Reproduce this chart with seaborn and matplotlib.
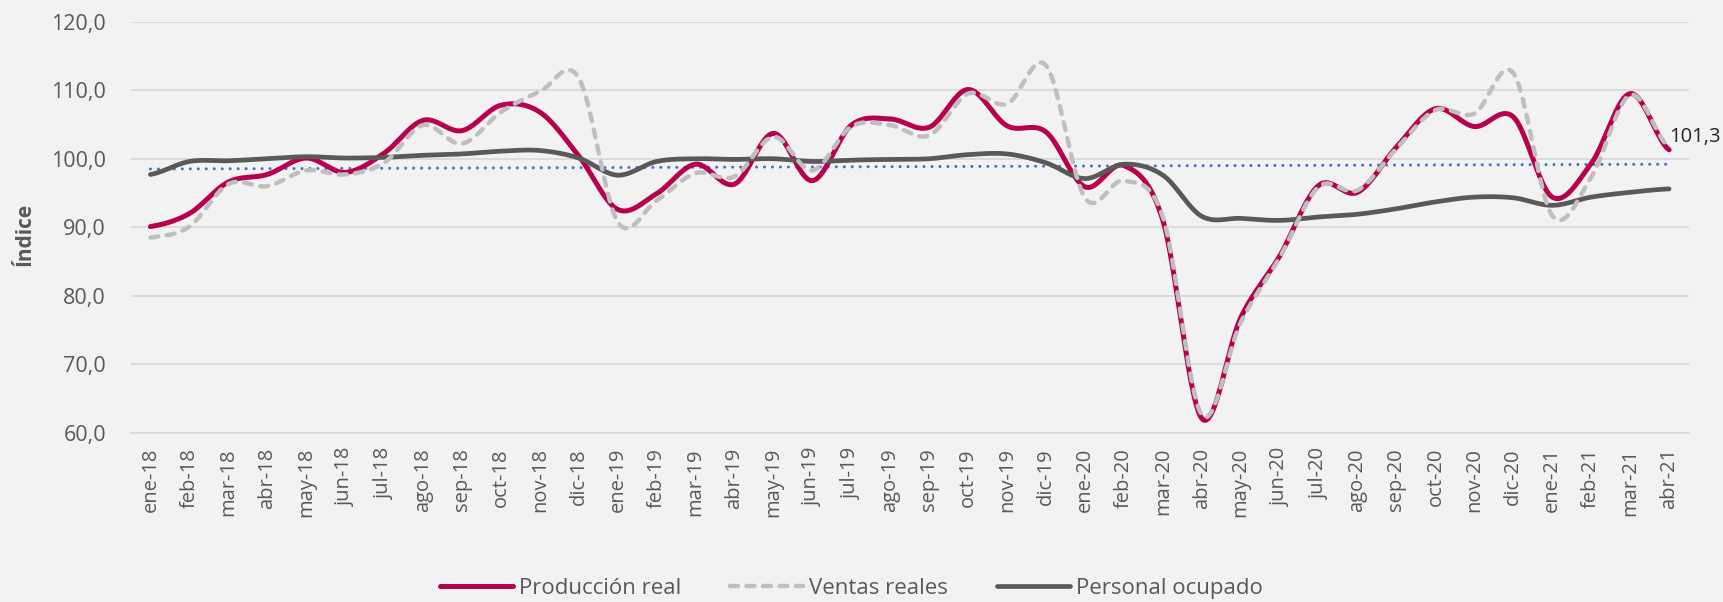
import numpy as np
import pandas as pd
import matplotlib
matplotlib.use('Agg')
import matplotlib.pyplot as plt
from matplotlib.ticker import FuncFormatter, FixedLocator
import seaborn as sns

# Índices mensuales ene-18 .. abr-21
meses = ['ene', 'feb', 'mar', 'abr', 'may', 'jun', 'jul', 'ago', 'sep', 'oct', 'nov', 'dic']
etiquetas = [f'{m}-{a}' for a in ['18', '19', '20', '21'] for m in meses][:40]

produccion = [90.1, 92.0, 96.6, 97.7, 100.1, 98.0, 100.8, 105.6, 104.1, 107.8, 106.8, 100.4,
              92.6, 94.9, 99.2, 96.3, 103.7, 96.8, 104.9, 105.8, 104.6, 110.1, 104.8, 103.9,
              95.9, 99.0, 91.0, 62.1, 76.8, 85.8, 96.1, 95.1, 101.7, 107.3, 104.7, 106.1,
              94.4, 99.3, 109.5, 101.3]
ventas = [88.5, 90.1, 96.3, 96.0, 98.3, 97.7, 99.4, 104.9, 102.2, 106.8, 109.8, 111.8,
          90.8, 93.9, 97.9, 97.4, 103.2, 98.3, 104.7, 104.9, 103.4, 109.5, 108.0, 113.6,
          94.3, 96.8, 91.5, 62.6, 76.1, 85.6, 95.9, 95.4, 101.5, 107.1, 106.6, 112.5,
          91.7, 97.3, 109.3, 101.7]
personal = [97.7, 99.6, 99.7, 100.0, 100.3, 100.1, 100.2, 100.5, 100.7, 101.1, 101.2, 100.1,
            97.6, 99.6, 100.0, 99.9, 100.0, 99.6, 99.8, 99.9, 100.0, 100.6, 100.7, 99.4,
            97.1, 99.2, 97.6, 91.6, 91.3, 91.0, 91.5, 91.9, 92.7, 93.7, 94.4, 94.3,
            93.2, 94.4, 95.1, 95.6]
# línea de tendencia (valores inicial y final)
tendencia = [98.5, 99.2]

ROJO = '#B8004F'
GRIS_CLARO = '#BFBFBF'
GRIS_OSC = '#595959'
AZUL = '#4472C4'
FONDO = '#F2F2F2'
GRID = '#D9D9D9'


def suavizar(y, n=24):
    # curva suavizada tipo Excel (Bezier / Catmull-Rom)
    y = np.asarray(y, float)
    p = np.concatenate([[y[0]], y, [y[-1]]])
    xs, ys = [], []
    t = np.linspace(0, 1, n, endpoint=False)
    for i in range(len(y) - 1):
        p0, p1, p2, p3 = p[i], p[i + 1], p[i + 2], p[i + 3]
        c1 = p1 + (p2 - p0) / 6
        c2 = p2 - (p3 - p1) / 6
        b = (1 - t) ** 3 * p1 + 3 * (1 - t) ** 2 * t * c1 + 3 * (1 - t) * t ** 2 * c2 + t ** 3 * p2
        xs.append(i + t)
        ys.append(b)
    xs.append([len(y) - 1])
    ys.append([y[-1]])
    return np.concatenate(xs), np.concatenate(ys)


sns.set_style('white')
plt.rcParams['font.family'] = ['Open Sans', 'DejaVu Sans']

fig, ax = plt.subplots(figsize=(17.23, 6.02), dpi=100)
fig.patch.set_facecolor(FONDO)
ax.set_facecolor(FONDO)
fig.subplots_adjust(left=0.076, right=0.98, bottom=0.281, top=0.964)

x = np.arange(len(produccion))

ax.plot([x[0], x[-1]], tendencia, color=AZUL, lw=2.2,
        linestyle=(0, (0.01, 2.6)), dash_capstyle='round', zorder=2)

xs, ys = suavizar(produccion)
sns.lineplot(x=xs, y=ys, ax=ax, color=ROJO, lw=3.6, label='Producción real',
             solid_capstyle='round', zorder=3)
xs, ys = suavizar(ventas)
sns.lineplot(x=xs, y=ys, ax=ax, color=GRIS_CLARO, lw=3.2, label='Ventas reales',
             linestyle=(0, (1.8, 1.9)), dash_capstyle='round', zorder=4)
xs, ys = suavizar(personal)
sns.lineplot(x=xs, y=ys, ax=ax, color=GRIS_OSC, lw=3.4, label='Personal ocupado',
             solid_capstyle='round', zorder=3)

ax.annotate(f'{produccion[-1]:.1f}'.replace('.', ','), (x[-1], produccion[-1]),
            xytext=(0, 9), textcoords='offset points', ha='left', va='center',
            fontsize=14.5, color='#262626')

ax.set_xlim(-0.5, len(x) - 0.5)
ax.set_ylim(60, 120)
ax.set_yticks(np.arange(60, 121, 10))
ax.yaxis.set_major_formatter(FuncFormatter(lambda v, p: f'{v:.1f}'.replace('.', ',')))
ax.set_xticks(x)
ax.set_xticklabels(etiquetas, rotation=90)
ax.xaxis.set_minor_locator(FixedLocator(np.arange(-0.5, len(x), 1)))
ax.tick_params(axis='x', which='major', length=0, pad=11, labelsize=14.5, labelcolor=GRIS_OSC)
ax.tick_params(axis='x', which='minor', length=7, width=1.3, color=GRID)
ax.tick_params(axis='y', length=0, pad=18, labelsize=15.5, labelcolor=GRIS_OSC)

ax.grid(axis='y', color=GRID, lw=1.3)
ax.set_axisbelow(True)
for s in ['left', 'right', 'top']:
    ax.spines[s].set_visible(False)
ax.spines['bottom'].set_color(GRID)
ax.spines['bottom'].set_linewidth(1.3)

ax.set_xlabel('')
ax.set_ylabel('')
fig.text(0.0145, 0.611, 'Índice', rotation=90, ha='center', va='center',
         fontsize=15, fontweight='bold', color=GRIS_OSC)

handles, labels = ax.get_legend_handles_labels()
ax.get_legend().remove()
fig.legend(handles, labels, loc='center', bbox_to_anchor=(0.494, 0.022), ncol=3,
           frameon=False, fontsize=16, handlelength=3.3, handletextpad=0.25,
           columnspacing=2.2, labelcolor=GRIS_OSC)

fig.savefig('out.png', dpi=100, facecolor=FONDO)
